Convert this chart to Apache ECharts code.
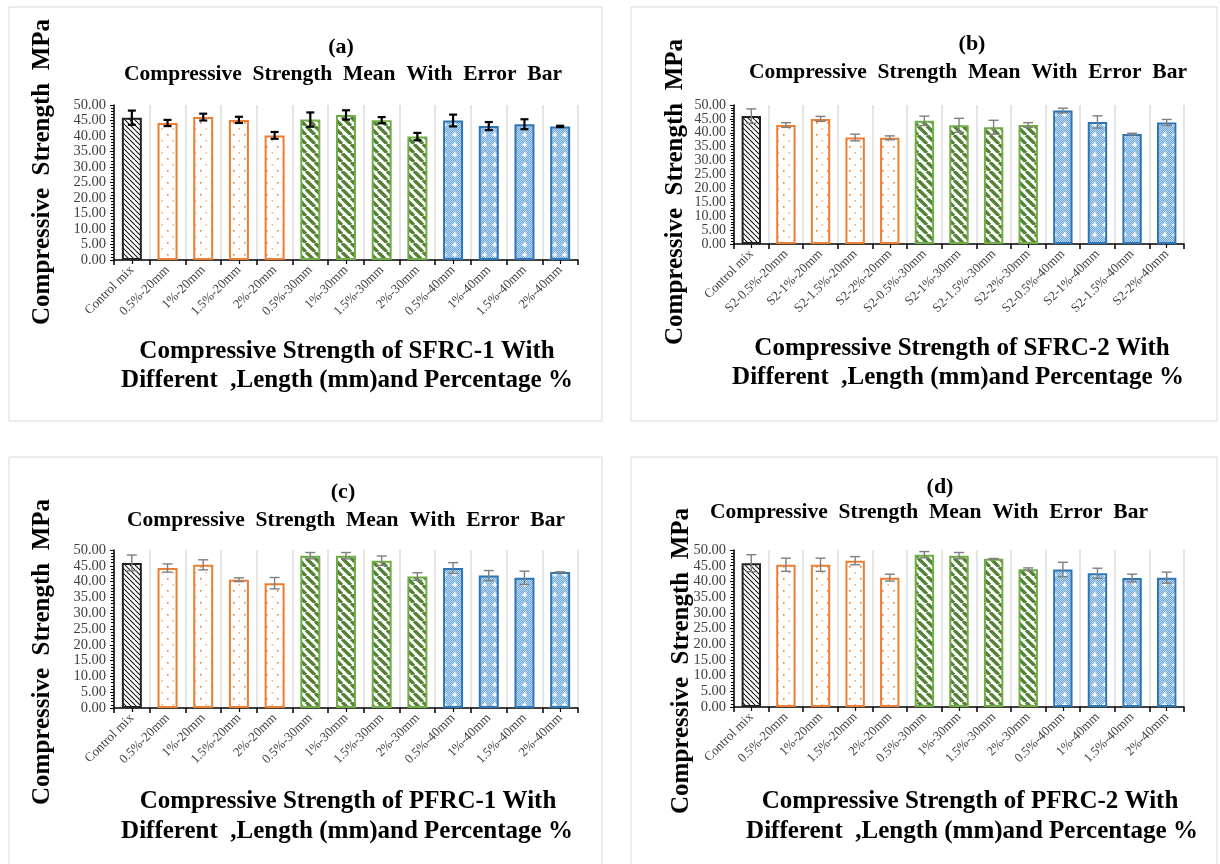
<!DOCTYPE html>
<html>
<head>
<meta charset="utf-8">
<script src="https://cdn.jsdelivr.net/npm/echarts@6/dist/echarts.min.js"></script>
<style>
html,body{margin:0;padding:0;background:#fff;}
#chart{width:1220px;height:864px;}
</style>
</head>
<body>
<div id="chart"></div>
<script>
// ---------- DATA ----------
const categoriesS1 = ['Control mix','0.5%-20mm','1%-20mm','1.5%-20mm','2%-20mm','0.5%-30mm','1%-30mm','1.5%-30mm','2%-30mm','0.5%-40mm','1%-40mm','1.5%-40mm','2%-40mm'];
const categoriesS2 = ['Control mix','S2-0.5%-20mm','S2-1%-20mm','S2-1.5%-20mm','S2-2%-20mm','S2-0.5%-30mm','S2-1%-30mm','S2-1.5%-30mm','S2-2%-30mm','S2-0.5%-40mm','S2-1%-40mm','S2-1.5%-40mm','S2-2%-40mm'];
const categoriesP = ['Control mix','0.5%-20mm','1%-20mm','1.5%-20mm','2%-20mm','0.5%-30mm','1%-30mm','1.5%-30mm','2%-30mm','0.5%-40mm','1%-40mm','1.5%-40mm','2%-40mm'];

const meanA = [45.9, 44.2, 46.1, 45.2, 40.2, 45.3, 46.8, 45.1, 39.8, 45.0, 43.2, 43.8, 43.1];
const errA  = [2.3, 1.0, 1.1, 1.0, 1.1, 2.3, 1.5, 1.0, 1.2, 1.9, 1.3, 1.6, 0.2];
const meanB = [46.0, 42.8, 45.0, 38.3, 38.2, 44.3, 42.7, 42.0, 42.8, 48.0, 43.9, 39.6, 43.7];
const errB  = [2.6, 0.85, 0.9, 1.2, 0.7, 1.7, 2.5, 2.5, 0.85, 0.85, 2.2, 0.25, 1.1];
const meanC = [45.9, 44.3, 45.3, 40.6, 39.5, 48.2, 48.2, 46.6, 41.6, 44.3, 41.9, 41.2, 43.0];
const errC  = [2.5, 1.3, 1.6, 0.6, 1.8, 1.0, 1.0, 1.5, 1.2, 1.7, 1.6, 2.1, 0.1];
const meanD = [45.8, 45.3, 45.3, 46.6, 41.2, 48.5, 48.2, 47.2, 43.9, 43.8, 42.6, 41.1, 41.2];
const errD  = [2.7, 2.1, 2.1, 1.3, 1.1, 1.0, 1.0, 0.1, 0.4, 2.3, 1.6, 1.2, 1.75];

// group of each category: 0 control, 1 = 20mm, 2 = 30mm, 3 = 40mm
const groupOf = [0,1,1,1,1,2,2,2,2,3,3,3,3];

const panelLetters = ['(a)','(b)','(c)','(d)'];
const subTitle = 'Compressive  Strength  Mean  With  Error  Bar';
const yTitle = 'Compressive  Strength  MPa';
const xTitle1 = ['Compressive Strength of SFRC-1 With','Compressive Strength of SFRC-2 With','Compressive Strength of PFRC-1 With','Compressive Strength of PFRC-2 With'];
const xTitle2 = 'Different  ,Length (mm)and Percentage %';

// ---------- PATTERNS ----------
function makeCanvas(w,h){const c=document.createElement('canvas');c.width=w;c.height=h;return c;}
function hatch(color, lw, s){
  const c=makeCanvas(s,s), g=c.getContext('2d');
  g.fillStyle='#fff'; g.fillRect(0,0,s,s);
  g.strokeStyle=color; g.lineWidth=lw;
  for(let k=-1;k<=1;k++){g.beginPath();g.moveTo(k*s,0);g.lineTo(k*s+s,s);g.stroke();}
  return c;
}
function dots(){
  const c=makeCanvas(11,12), g=c.getContext('2d');
  g.fillStyle='#fff'; g.fillRect(0,0,11,12);
  g.fillStyle='#ED7D31';
  g.fillRect(2,2,1.6,1.6);
  g.fillStyle='#F4B183';
  g.fillRect(7.5,8,1.6,1.6);
  return c;
}
function bluePat(){
  const s=10, c=makeCanvas(s,s), g=c.getContext('2d');
  g.fillStyle='#6FA8DC'; g.fillRect(0,0,s,s);
  g.fillStyle='#BDD7EE';
  for(let y=0;y<s;y++)for(let x=0;x<s;x++){ if((x+y)%2===0) g.fillRect(x,y,1,1); }
  g.fillStyle='#ffffff';
  g.fillRect(4,2,1.5,5); g.fillRect(2,4,5,1.5);
  return c;
}
const patterns = [
  {image: hatch('#111',1.1,5), repeat:'repeat'},
  {image: dots(), repeat:'repeat'},
  {image: hatch('#548235',3.4,9), repeat:'repeat'},
  {image: bluePat(), repeat:'repeat'}
];
const borders = ['#222','#ED7D31','#70AD47','#2E75B6'];

// ---------- LAYOUT ----------
const FONT = '"Liberation Serif","Times New Roman",serif';
const grids = [
  {left:114, top:105, width:464, height:155},
  {left:734, top:105, width:450, height:139},
  {left:114, top:550, width:464, height:158},
  {left:734, top:550, width:450, height:157}
];
const cats = [categoriesS1, categoriesS2, categoriesP, categoriesP];
const means = [meanA, meanB, meanC, meanD];
const errs = [errA, errB, errC, errD];
const errStyle = [
  {color:'#000', width:2.2, cap:4},
  {color:'#7F7F7F', width:1.4, cap:5},
  {color:'#7F7F7F', width:1.4, cap:5},
  {color:'#7F7F7F', width:1.4, cap:5}
];
const textPos = [
  {letter:[341,47], sub:[343,74], y:[43,172], x1:[347,352], x2:[347,381]},
  {letter:[972,44], sub:[968,72], y:[676,192], x1:[962,349], x2:[958,378]},
  {letter:[343,492], sub:[346,520], y:[43,652], x1:[348,802], x2:[347,832]},
  {letter:[940,487], sub:[929,512], y:[682,661], x1:[970,802], x2:[972,832]}
];
const boxes = [
  {x:9, y:7, width:593, height:414},
  {x:631, y:7, width:586, height:414},
  {x:9, y:457, width:593, height:420},
  {x:631, y:457, width:586, height:420}
];

const xAxes=[], yAxes=[], series=[], graphics=[];
for(let p=0;p<4;p++){
  xAxes.push({
    type:'category', gridIndex:p, data:cats[p], boundaryGap:true,
    axisLine:{show:true, lineStyle:{color:'#000', width:1.5}},
    axisTick:{show:true, length:5, lineStyle:{color:'#000', width:1.5}},
    splitLine:{show:true, lineStyle:{color:'#DCDCDC', width:1.5}},
    axisLabel:{rotate:45, fontFamily:FONT, fontSize:13, color:'#404040', margin:8, interval:0, hideOverlap:false}
  });
  xAxes.push({
    type:'category', gridIndex:p, data:cats[p], position:'bottom',
    axisLine:{show:false},
    axisTick:{show:true, alignWithLabel:true, length:4, lineStyle:{color:'#000', width:1.2}},
    axisLabel:{show:false}, splitLine:{show:false}
  });
  yAxes.push({
    type:'value', gridIndex:p, min:0, max:50, interval:5,
    axisLine:{show:true, lineStyle:{color:'#000', width:1.5}},
    axisTick:{show:true, length:4, lineStyle:{color:'#000'}},
    minorTick:{show:true, splitNumber:5, length:3, lineStyle:{color:'#000'}},
    splitLine:{show:false},
    axisLabel:{fontFamily:FONT, fontSize:(p===1?14:14.5), color:'#404040', margin:8,
      showMinLabel:true, showMaxLabel:true, hideOverlap:false, formatter:v=>v.toFixed(2)}
  });
  series.push({
    type:'bar', xAxisIndex:2*p, yAxisIndex:p, barWidth:'56%',
    data: means[p].map((v,i)=>({value:v, itemStyle:{color:patterns[groupOf[i]], borderColor:borders[groupOf[i]], borderWidth:2}})),
    silent:true, animation:false
  });
  const st = errStyle[p];
  series.push({
    type:'custom', xAxisIndex:2*p, yAxisIndex:p, animation:false, silent:true, z:10,
    data: means[p].map((v,i)=>[i, v, errs[p][i]]),
    renderItem:function(params, api){
      const i=api.value(0), v=api.value(1), e=api.value(2);
      const t=api.coord([i, v+e]), b=api.coord([i, v-e]);
      const ls={stroke:st.color, lineWidth:st.width};
      return {type:'group', children:[
        {type:'line', shape:{x1:t[0],y1:t[1],x2:b[0],y2:b[1]}, style:ls},
        {type:'line', shape:{x1:t[0]-st.cap,y1:t[1],x2:t[0]+st.cap,y2:t[1]}, style:ls},
        {type:'line', shape:{x1:b[0]-st.cap,y1:b[1],x2:b[0]+st.cap,y2:b[1]}, style:ls}
      ]};
    }
  });
  const tp=textPos[p];
  graphics.push({type:'rect', shape:boxes[p], style:{fill:'none', stroke:'#D9D9D9', lineWidth:1}, silent:true});
  const txt=(s,pos,size,rot)=>({type:'text', x:pos[0], y:pos[1], rotation:rot||0,
    style:{text:s, font:'bold '+size+'px '+FONT, fill:'#000', align:'center', verticalAlign:'middle', textAlign:'center', textVerticalAlign:'middle'}, silent:true});
  graphics.push(txt(panelLetters[p], tp.letter, 22));
  graphics.push(txt(subTitle, tp.sub, 21.5));
  graphics.push(txt(yTitle, tp.y, 25));
  graphics[graphics.length-1].rotation = Math.PI/2;
  graphics.push(txt(xTitle1[p], tp.x1, 25));
  graphics.push(txt(xTitle2, tp.x2, 25));
}

const chart = echarts.init(document.getElementById('chart'), null, {renderer:'canvas'});
chart.setOption({
  backgroundColor:'#fff',
  animation:false,
  grid:grids.map(g=>Object.assign({containLabel:false}, g)),
  xAxis:xAxes, yAxis:yAxes, series:series, graphic:graphics
});
</script>
</body>
</html>
